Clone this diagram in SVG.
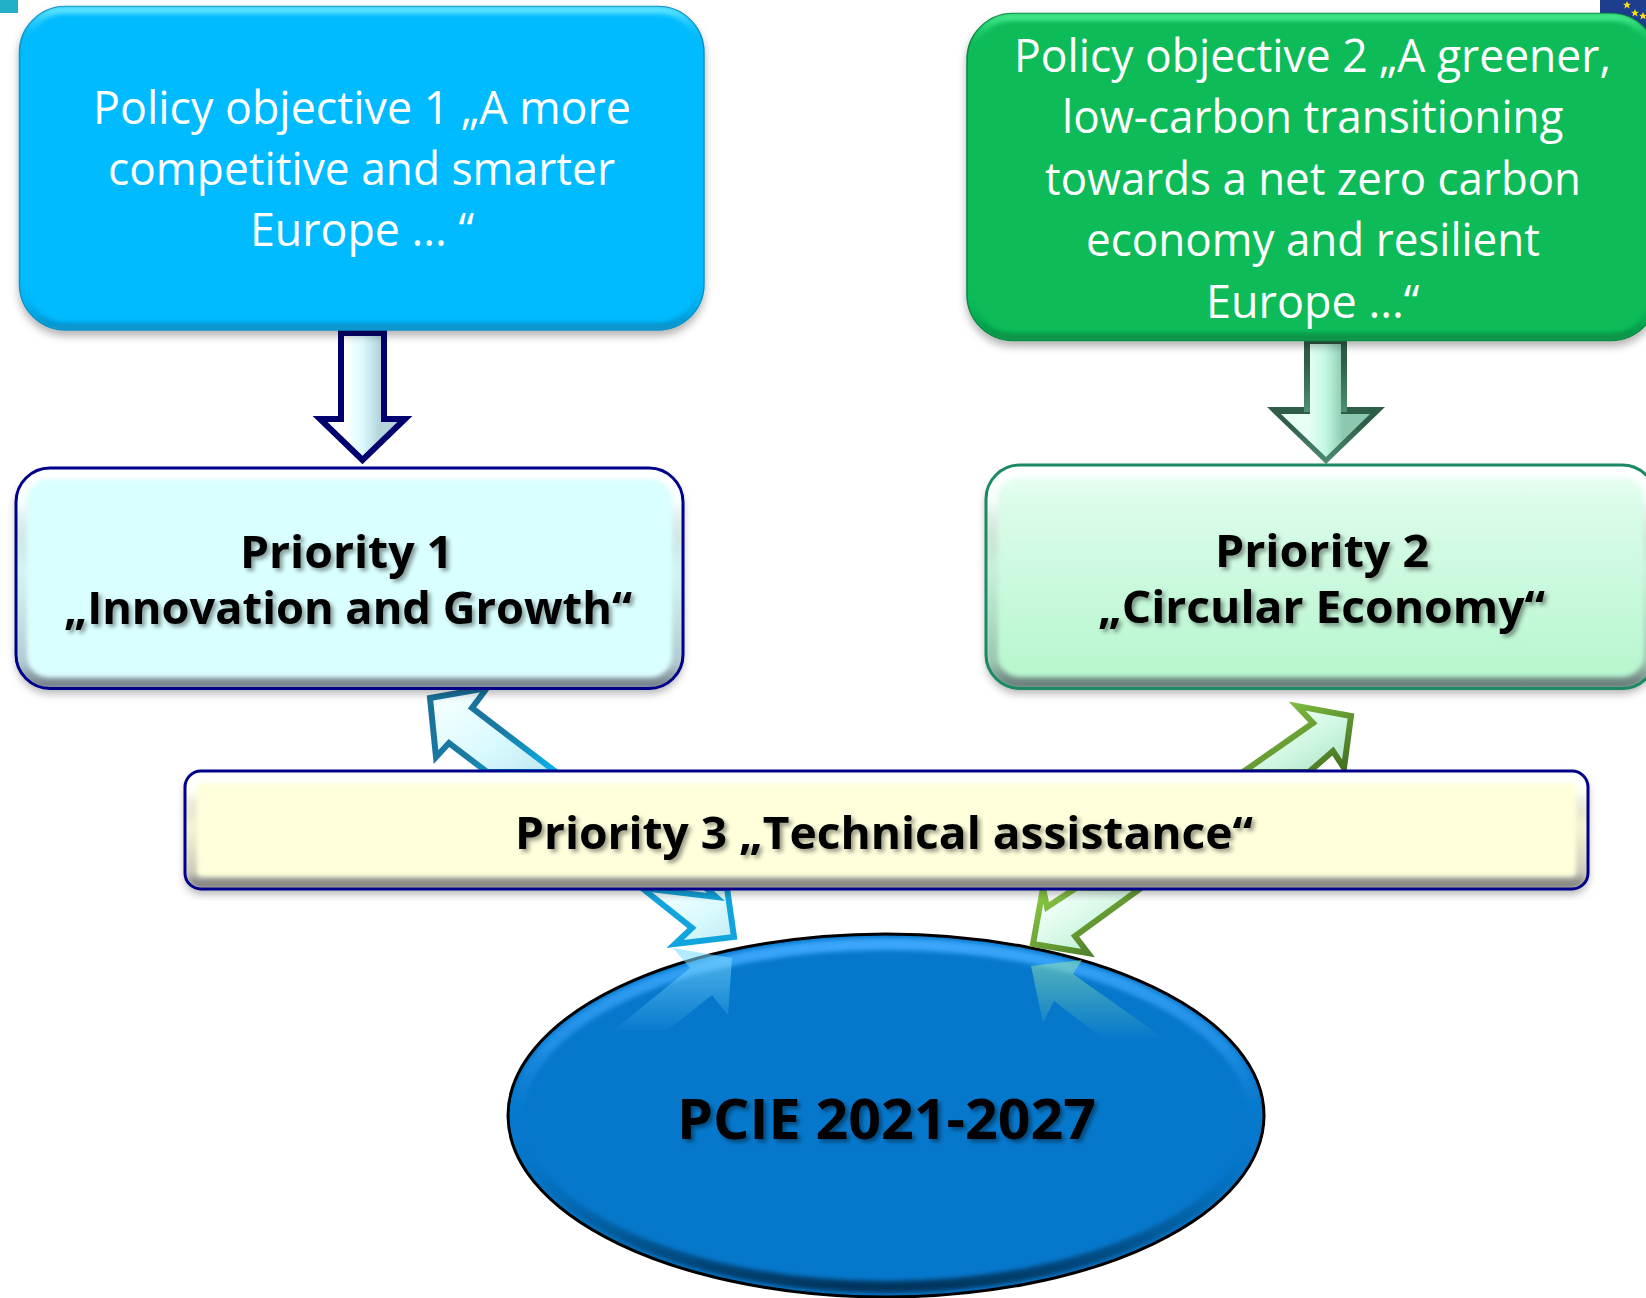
<svg xmlns="http://www.w3.org/2000/svg" xmlns:xlink="http://www.w3.org/1999/xlink" width="1646" height="1298" viewBox="0 0 1646 1298">
<style>
.w{font-family:"Open Sans","Noto Sans",sans-serif;font-size:46px;fill:#fff;text-anchor:start}
.b{font-family:"Open Sans","Noto Sans",sans-serif;font-size:45px;font-weight:700;fill:#000;filter:url(#ts)}
.bev{fill:none;filter:url(#bl)}
</style>
<defs>
<filter id="ds" x="-5%" y="-5%" width="110%" height="115%"><feDropShadow dx="0" dy="5" stdDeviation="4" flood-color="#000" flood-opacity=".3"/></filter>
<filter id="ts" x="-5%" y="-20%" width="110%" height="150%"><feDropShadow dx="3" dy="3" stdDeviation="2" flood-color="#000" flood-opacity=".4"/></filter>
<filter id="bl" x="-5%" y="-5%" width="110%" height="110%"><feGaussianBlur stdDeviation="2"/></filter>
<linearGradient id="bvBlue" x1="0" y1="0" x2="0" y2="1"><stop offset="0" stop-color="#5fe4ff"/><stop offset=".1" stop-color="#08bbff" stop-opacity="0"/><stop offset=".85" stop-color="#08bbff" stop-opacity="0"/><stop offset="1" stop-color="#0790c8"/></linearGradient>
<linearGradient id="bvGreen" x1="0" y1="0" x2="0" y2="1"><stop offset="0" stop-color="#45e88c"/><stop offset=".1" stop-color="#0abb5a" stop-opacity="0"/><stop offset=".85" stop-color="#0abb5a" stop-opacity="0"/><stop offset="1" stop-color="#079048"/></linearGradient>
<linearGradient id="bvLight" x1="0" y1="0" x2="0" y2="1"><stop offset="0" stop-color="#fff"/><stop offset=".14" stop-color="#fff" stop-opacity=".75"/><stop offset=".45" stop-color="#999" stop-opacity=".1"/><stop offset=".9" stop-color="#667" stop-opacity=".35"/><stop offset="1" stop-color="#445" stop-opacity=".65"/></linearGradient>
<linearGradient id="bvEll" x1="0" y1="0" x2="0" y2="1"><stop offset="0" stop-color="#3aa6fa"/><stop offset=".3" stop-color="#2a98ee" stop-opacity=".7"/><stop offset=".55" stop-color="#0678cc" stop-opacity="0"/><stop offset=".8" stop-color="#034a80" stop-opacity=".5"/><stop offset="1" stop-color="#012e52" stop-opacity=".9"/></linearGradient>
<linearGradient id="g2" x1="0" y1="0" x2="0" y2="1"><stop offset="0" stop-color="#f0fff8"/><stop offset=".15" stop-color="#dcfcea"/><stop offset="1" stop-color="#b4f6cc"/></linearGradient>
<linearGradient id="a1" x1="0" y1="0" x2="1" y2="0"><stop offset=".3" stop-color="#fff"/><stop offset=".5" stop-color="#dbfaff"/><stop offset=".7" stop-color="#b4d4dc"/></linearGradient>
<linearGradient id="a2" x1="0" y1="0" x2="1" y2="0"><stop offset=".3" stop-color="#e8fff6"/><stop offset=".5" stop-color="#c2f8e2"/><stop offset=".7" stop-color="#8cc8b0"/></linearGradient>
<linearGradient id="s2" x1="0" y1="0" x2="0" y2="1"><stop offset=".3" stop-color="#2f5e48"/><stop offset="1" stop-color="#4f8f74"/></linearGradient>
<linearGradient id="sc" x1="0" y1="0" x2="1" y2="1"><stop offset="0" stop-color="#1a6f98"/><stop offset=".55" stop-color="#1a7aa4"/><stop offset="1" stop-color="#08b4ee"/></linearGradient>
<linearGradient id="sg" x1="0" y1="0" x2="1" y2="1"><stop offset="0" stop-color="#8fd048"/><stop offset="1" stop-color="#3f6a20"/></linearGradient>
<linearGradient id="fc" x1="0" y1="0" x2="1" y2="1"><stop offset=".2" stop-color="#f0feff"/><stop offset=".6" stop-color="#d8fafe"/><stop offset="1" stop-color="#bfe8f0"/></linearGradient>
<linearGradient id="fg" x1="0" y1="0" x2="1" y2="1"><stop offset=".2" stop-color="#f0fff8"/><stop offset=".6" stop-color="#cdf6e0"/><stop offset="1" stop-color="#a8e0c4"/></linearGradient>
<linearGradient id="rc" gradientUnits="userSpaceOnUse" x1="0" y1="945" x2="0" y2="1035"><stop offset="0" stop-color="#7fdcff" stop-opacity=".65"/><stop offset="1" stop-color="#7fdcff" stop-opacity="0"/></linearGradient>
<linearGradient id="rg" gradientUnits="userSpaceOnUse" x1="0" y1="955" x2="0" y2="1040"><stop offset="0" stop-color="#90e0b0" stop-opacity=".6"/><stop offset="1" stop-color="#90e0b0" stop-opacity="0"/></linearGradient>
<clipPath id="cBlue"><rect x="19.5" y="6.5" width="684.5" height="323.5" rx="46"/></clipPath>
<clipPath id="cGreen"><rect x="967" y="13.5" width="690" height="327" rx="46"/></clipPath>
<clipPath id="cP1"><rect x="16" y="468" width="667" height="220.5" rx="34"/></clipPath>
<clipPath id="cP2"><rect x="986" y="465" width="670" height="223.5" rx="34"/></clipPath>
<clipPath id="cP3"><rect x="185" y="771" width="1403" height="118" rx="16"/></clipPath>
<clipPath id="cE"><ellipse cx="886" cy="1115.5" rx="378" ry="181.5"/></clipPath>
<polygon id="star" points="0,-4 1.2,-1.2 4,-1.2 1.8,.6 2.6,3.6 0,1.8 -2.6,3.6 -1.8,.6 -4,-1.2 -1.2,-1.2" fill="#f7e017"/>
</defs>
<rect width="1646" height="1298" fill="#fff"/>
<rect x="0" y="0" width="18" height="13" fill="#22b0c8"/>
<rect x="1600" y="0" width="46" height="30" fill="#1d3d8f"/>
<use xlink:href="#star" href="#star" x="1627" y="5"/>
<use xlink:href="#star" href="#star" x="1635" y="13"/>
<use xlink:href="#star" href="#star" x="1643" y="16"/>

<g id="node-pcie">
<ellipse cx="886" cy="1115.5" rx="378" ry="181.5" fill="#0678cc"/>
<g clip-path="url(#cE)"><ellipse class="bev" cx="886" cy="1115.5" rx="368" ry="171.5" stroke="url(#bvEll)" stroke-width="12"/></g>
<ellipse cx="886" cy="1115.5" rx="378" ry="181.5" fill="none" stroke="#000" stroke-width="3"/>
<text class="b" x="677" y="1139" style="font-size:55px" textLength="419" lengthAdjust="spacingAndGlyphs">PCIE 2021-2027</text>
</g>

<g id="connectors">
<polygon points="341,333 384,333 384,419 405,419 362.5,460 320,419 341,419" fill="url(#a1)" stroke="#00006e" stroke-width="6"/>
<polygon points="1267,407 1385,407 1326,464" fill="url(#s2)"/>
<rect x="1304" y="340" width="43" height="72" fill="url(#s2)"/>
<polygon points="1310,344 1341,344 1341,414 1370,414 1326,457 1281,414 1310,414" fill="url(#a2)"/>
<polygon points="430,698 487,688 472,708 556,772 487,772 449,743 436,757" fill="url(#fc)" stroke="url(#sc)" stroke-width="6"/>
<polygon points="1351,716 1297,706 1313,723 1243,772 1309,772 1333,751 1344,768" fill="url(#fg)" stroke="url(#sg)" stroke-width="6"/>
<polygon points="734,937 727,888 706,888 716,897 642,888 692,928 675,944" fill="url(#fc)" stroke="#12a4dc" stroke-width="6"/>
<polygon points="1033,944 1088,953 1075,936 1141,888 1076,888 1047,907 1043,888" fill="url(#fg)" stroke="url(#sg)" stroke-width="6"/>
<polygon points="673,948 732,958 728,1015 712,995 668,1030 614,1030 690,968" fill="url(#rc)"/>
<polygon points="1031,966 1082,960 1073,974 1162,1037 1101,1037 1054,1001 1043,1023" fill="url(#rg)"/>
</g>

<g id="node-objective-1">
<rect x="19.5" y="6.5" width="684.5" height="323.5" rx="46" fill="#06bbff" stroke="#0b8fc0" stroke-width="1.5" filter="url(#ds)"/>
<g clip-path="url(#cBlue)"><rect class="bev" x="23" y="10" width="677.5" height="316.5" rx="42" stroke="url(#bvBlue)" stroke-width="8"/></g>
<text class="w" x="93" y="124" textLength="538" lengthAdjust="spacingAndGlyphs">Policy objective 1 „A more</text>
<text class="w" x="108" y="185" textLength="507" lengthAdjust="spacingAndGlyphs">competitive and smarter</text>
<text class="w" x="250" y="246" textLength="224" lengthAdjust="spacingAndGlyphs">Europe ... “</text>
</g>

<g id="node-objective-2">
<rect x="967" y="13.5" width="690" height="327" rx="46" fill="#09bb58" stroke="#08853f" stroke-width="1.5" filter="url(#ds)"/>
<g clip-path="url(#cGreen)"><rect class="bev" x="970.5" y="17" width="683" height="320" rx="42" stroke="url(#bvGreen)" stroke-width="8"/></g>
<text class="w" x="1014" y="71.5" textLength="597" lengthAdjust="spacingAndGlyphs">Policy objective 2 „A greener,</text>
<text class="w" x="1062" y="133" textLength="501.5" lengthAdjust="spacingAndGlyphs">low-carbon transitioning</text>
<text class="w" x="1045" y="194.7" textLength="536" lengthAdjust="spacingAndGlyphs">towards a net zero carbon</text>
<text class="w" x="1086" y="256" textLength="454" lengthAdjust="spacingAndGlyphs">economy and resilient</text>
<text class="w" x="1206" y="318" textLength="213.5" lengthAdjust="spacingAndGlyphs">Europe ...“</text>
</g>

<g id="node-priority-1">
<rect x="16" y="468" width="667" height="220.5" rx="34" fill="#daffff" filter="url(#ds)"/>
<g clip-path="url(#cP1)"><rect class="bev" x="21" y="473" width="657" height="210.5" rx="28" stroke="url(#bvLight)" stroke-width="12"/></g>
<rect x="16" y="468" width="667" height="220.5" rx="34" fill="none" stroke="#00008b" stroke-width="3"/>
<text class="b" x="240" y="568" textLength="213" lengthAdjust="spacingAndGlyphs">Priority 1</text>
<text class="b" x="64" y="624" textLength="568" lengthAdjust="spacingAndGlyphs">„Innovation and Growth“</text>
</g>

<g id="node-priority-2">
<rect x="986" y="465" width="670" height="223.5" rx="34" fill="url(#g2)" filter="url(#ds)"/>
<g clip-path="url(#cP2)"><rect class="bev" x="992" y="471" width="658" height="212" rx="28" stroke="url(#bvLight)" stroke-width="12"/></g>
<rect x="986" y="465" width="670" height="223.5" rx="34" fill="none" stroke="#1b8a62" stroke-width="3"/>
<text class="b" x="1215" y="566.5" textLength="214" lengthAdjust="spacingAndGlyphs">Priority 2</text>
<text class="b" x="1098" y="623" textLength="447" lengthAdjust="spacingAndGlyphs">„Circular Economy“</text>
</g>

<g id="node-priority-3">
<rect x="185" y="771" width="1403" height="118" rx="16" fill="#ffffdc" filter="url(#ds)"/>
<g clip-path="url(#cP3)"><rect class="bev" x="191" y="777" width="1391" height="106" rx="11" stroke="url(#bvLight)" stroke-width="12"/></g>
<rect x="185" y="771" width="1403" height="118" rx="16" fill="none" stroke="#00008b" stroke-width="3"/>
<text class="b" x="515" y="848.5" textLength="738" lengthAdjust="spacingAndGlyphs">Priority 3 „Technical assistance“</text>
</g>
</svg>
